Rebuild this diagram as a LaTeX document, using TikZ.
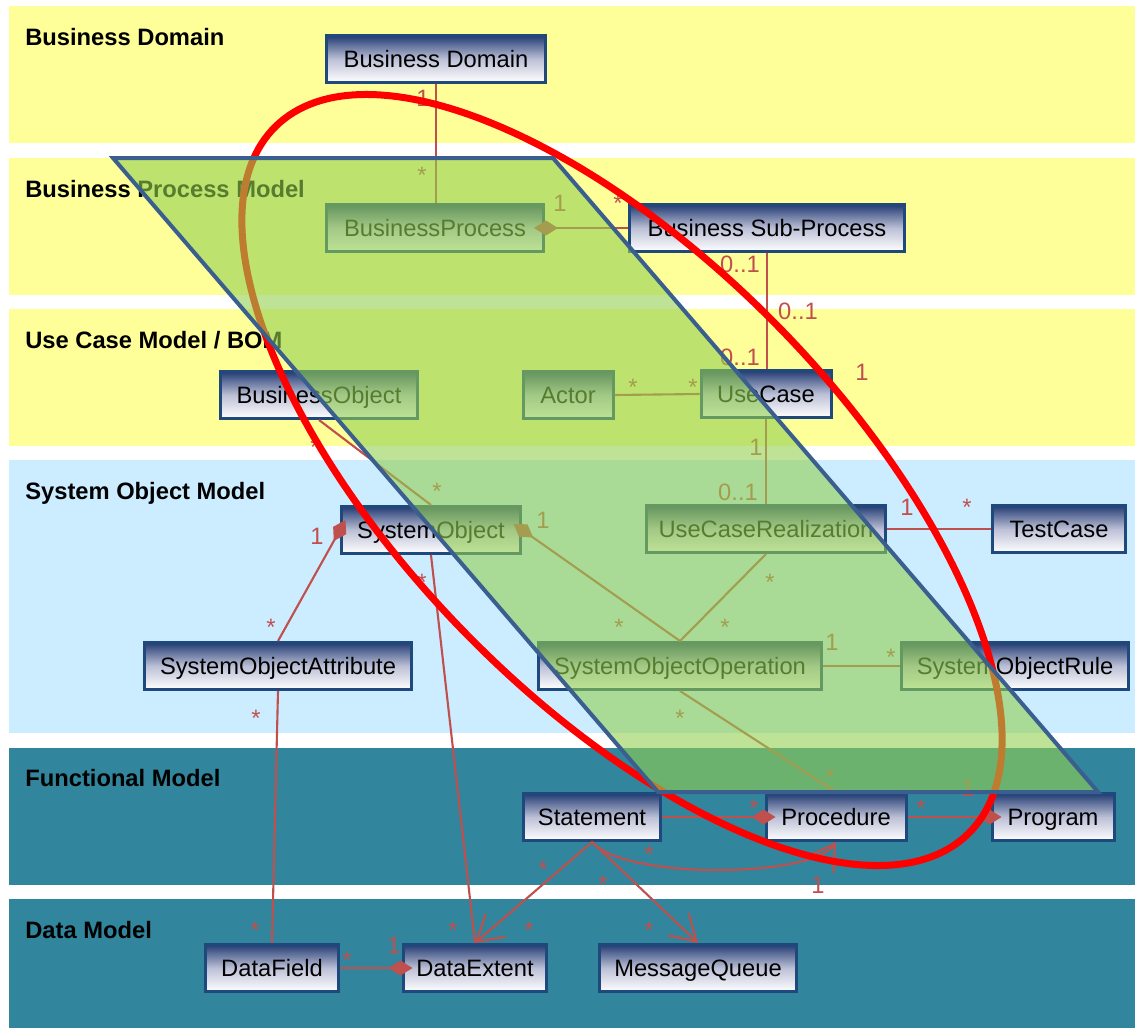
\documentclass[tikz,border=0pt]{standalone}
\usepackage{fontspec}
\setmainfont{Liberation Sans}
\usetikzlibrary{arrows.meta,calc}

\definecolor{bandyellow}{RGB}{255,255,153}
\definecolor{bandblue}{RGB}{204,236,255}
\definecolor{bandteal}{RGB}{49,133,156}
\definecolor{boxblue}{RGB}{31,73,125}
\definecolor{boxtop}{RGB}{35,60,115}
\definecolor{boxmid}{RGB}{188,192,214}
\definecolor{linkred}{RGB}{192,80,77}
\definecolor{paragreen}{RGB}{146,208,80}
\definecolor{paraedge}{RGB}{58,95,143}

\tikzset{
  cls/.style={draw=boxblue, line width=0.06cm, top color=boxtop, bottom color=white, middle color=boxmid,
    minimum height=0.94cm, inner sep=0pt, text height=9.7pt, text depth=0pt, font=\fontsize{13.5}{16}\selectfont},
  bandlbl/.style={anchor=base west, inner sep=0pt, font=\fontsize{13.5}{16}\selectfont\bfseries},
  mult/.style={text=linkred, inner sep=0pt, text height=9.7pt, text depth=0pt, font=\fontsize{13.5}{16}\selectfont},
  mstar/.style={mult, yshift=-0.1cm},
  link/.style={draw=linkred, line width=1.2pt},
  comp/.style={link, -{Diamond[length=0.48cm,width=0.3cm]}, shorten >=-0.22cm},
  nav/.style={link, -{Straight Barb[length=0.5cm,width=0.6cm]}}
}

\begin{document}
\begin{tikzpicture}[x=0.02cm,y=-0.02cm]
\useasboundingbox (0,0) rectangle (1135,1028);
\foreach \ya/\yb/\c in {6/143/bandyellow,158/295/bandyellow,309/446/bandyellow,460/733/bandblue,748/885/bandteal,899/1028/bandteal}
  \fill[\c] (9,\ya) rectangle (1135,\yb);
\node[bandlbl] (lbd) at (25,45) {Business Domain};
\node[bandlbl] (lbp) at (25,197) {Business Process Model};
\node[bandlbl] (luc) at (25,348) {Use Case Model / BOM};
\node[bandlbl] (lso) at (25,499) {System Object Model};
\node[bandlbl] (lfm) at (25,786) {Functional Model};
\node[bandlbl] (ldm) at (25,938) {Data Model};

\node[cls, minimum width=4.38cm] (bd) at (436,59) {Business Domain};
\node[cls, minimum width=4.34cm] (bp) at (435,228) {BusinessProcess};
\node[cls, minimum width=5.5cm] (bsp) at (767,228) {Business Sub-Process};
\node[cls, minimum width=3.94cm] (bo) at (319,395) {BusinessObject};
\node[cls, minimum width=1.8cm] (actor) at (568,395) {Actor};
\node[cls, minimum width=2.6cm] (uc) at (766,394) {UseCase};
\node[cls, minimum width=3.6cm] (so) at (431,530) {SystemObject};
\node[cls, minimum width=4.8cm] (ucr) at (766,529) {UseCaseRealization};
\node[cls, minimum width=2.66cm] (tc) at (1059,529) {TestCase};
\node[cls, minimum width=5.34cm] (soa) at (278,666) {SystemObjectAttribute};
\node[cls, minimum width=5.66cm] (soo) at (680,666) {SystemObjectOperation};
\node[cls, minimum width=4.54cm] (sor) at (1015,666) {SystemObjectRule};
\node[cls, minimum width=2.76cm] (stmt) at (592,817) {Statement};
\node[cls, minimum width=2.8cm] (proc) at (836,817) {Procedure};
\node[cls, minimum width=2.44cm] (prog) at (1053,817) {Program};
\node[cls, minimum width=2.66cm] (df) at (272,968) {DataField};
\node[cls, minimum width=2.88cm] (de) at (475,968) {DataExtent};
\node[cls, minimum width=3.94cm] (mq) at (698,968) {MessageQueue};

\draw[link] (bd.south) -- (bd.south |- bp.north);
\draw[comp] (bsp.west) -- (bp.east);
\draw[link] (bsp.south) -- (bsp.south |- uc.north);
\draw[link] (actor.east) -- (uc.west);
\draw[link] (uc.south) -- (uc.south |- ucr.north);
\draw[link] (bo.south) -- (so.north);
\draw[comp] (soo.north) -- (so.east);
\draw[link] (ucr.south) -- (soo.north);
\draw[link] (ucr.east) -- (tc.west);
\draw[link] (soo.east) -- (sor.west);
\draw[link] (soo.south) -- (proc.north);
\draw[comp, shorten >=0pt] (soa.north) -- ($(so.west)+(6,-10)$);
\draw[link] (soa.south) -- (df.north);
\draw[link] (so.south) -- (de.north);
\draw[comp] (stmt.east) -- (proc.west);
\draw[comp] (proc.east) -- (prog.west);
\draw[comp] (df.east) -- (de.west);
\draw[nav] (stmt.south) .. controls (625,880) and (812,878) .. (proc.south);
\draw[nav] (stmt.south) -- (de.north);
\draw[nav] (stmt.south) -- (mq.north);

\foreach \x/\y [count=\i] in {422/170,618/198,633/382,693/382,315/442,437/486,271/622,422/577,619/622,725/622,770/577,967/502,891/652,680/713,256/713,255/925,453/925,529/925,649/925,543/864,603/879,649/849,754/803,921/803,830/772,347/955}
  \node[mstar] (st\i) at (\x,\y) {*};
\foreach \x/\y [count=\i] in {423/98,560/203,862/372,756/447,543/520,317/536,907/507,832/642,968/788,818/885,394/945}
  \node[mult] (one\i) at (\x,\y) {1};
\foreach \x/\y [count=\i] in {740/264,798/311,740/357,738/492}
  \node[mult] (opt\i) at (\x,\y) {0..1};

\draw[red, line width=0.14cm, rotate around={-45.6:(622,480)}] (622,480) ellipse [x radius=495, y radius=219];
\draw[draw=paraedge, line width=0.08cm, fill=paragreen, fill opacity=0.6] (113,158) -- (553,158) -- (1098,792) -- (658,792) -- cycle;
\end{tikzpicture}
\end{document}
